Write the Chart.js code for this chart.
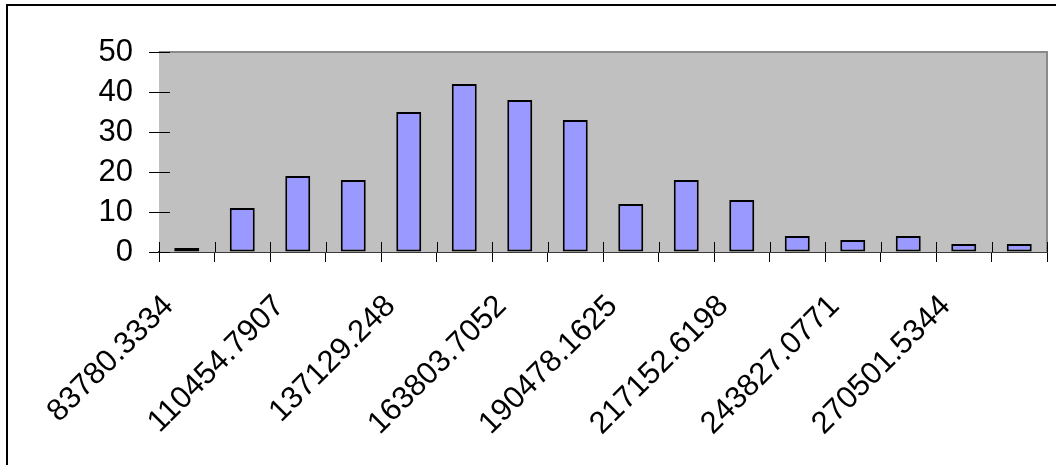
<!DOCTYPE html>
<html>
<head>
<meta charset="utf-8">
<script src="https://cdn.jsdelivr.net/npm/chart.js@4/dist/chart.umd.min.js"></script>
<style>
  html, body { margin: 0; padding: 0; background: #fff; }
  canvas { display: block; }
</style>
</head>
<body>
<canvas id="c" width="1056" height="465"></canvas>
<script>
// Histogram bins (lower bound of each bin) and counts
const binStarts = [
  '83780.3334', '97117.5621', '110454.7907', '123792.0194',
  '137129.248', '150466.4766', '163803.7052', '177140.9339',
  '190478.1625', '203815.3912', '217152.6198', '230489.8485',
  '243827.0771', '257164.3058', '270501.5344', '283838.7631'
];
const frequencies = [1, 11, 19, 18, 35, 42, 38, 33, 12, 18, 13, 4, 3, 4, 2, 2];
const yMin = 0;
const yMax = 50;
const yStep = 10;

const FONT = "'Liberation Sans', Arial, sans-serif";

// Plot background, frame, inward tick marks and the outer chart border
const framePlugin = {
  id: 'frame',
  beforeDatasetsDraw(chart) {
    const { ctx, chartArea: a, scales } = chart;
    ctx.save();
    ctx.fillStyle = '#C0C0C0';
    ctx.fillRect(a.left, a.top, a.right - a.left, a.bottom - a.top);

    // gray top and right edges of the plot area
    ctx.strokeStyle = '#8a8a8a';
    ctx.lineWidth = 2;
    ctx.beginPath();
    ctx.moveTo(a.left, a.top);
    ctx.lineTo(a.right, a.top);
    ctx.lineTo(a.right, a.bottom);
    ctx.stroke();

    // tick marks continue inside the plot area
    ctx.strokeStyle = '#000';
    ctx.lineWidth = 1;
    const x = scales.x;
    const n = x.ticks.length;
    ctx.beginPath();
    for (let i = 0; i <= n; i++) {
      const px = Math.round(x.getPixelForValue(i - 0.5)) + 0.5;
      ctx.moveTo(px, a.bottom - 10);
      ctx.lineTo(px, a.bottom);
    }
    const y = scales.y;
    y.ticks.forEach(t => {
      const py = Math.round(y.getPixelForValue(t.value)) + 0.5;
      ctx.moveTo(a.left, py);
      ctx.lineTo(a.left + 11, py);
    });
    ctx.stroke();
    ctx.restore();
  },
  afterDraw(chart) {
    const { ctx } = chart;
    ctx.save();
    ctx.strokeStyle = '#000';
    ctx.lineWidth = 2;
    ctx.beginPath();
    ctx.moveTo(7, 470);
    ctx.lineTo(7, 5);
    ctx.lineTo(1060, 5);
    ctx.stroke();
    ctx.restore();
  }
};

new Chart(document.getElementById('c'), {
  type: 'bar',
  data: {
    labels: binStarts,
    datasets: [{
      data: frequencies,
      backgroundColor: '#9999FF',
      borderColor: '#000',
      borderWidth: 2,
      borderSkipped: false,
      barPercentage: 0.9,
      categoryPercentage: 0.5
    }]
  },
  options: {
    responsive: false,
    animation: false,
    devicePixelRatio: 1,
    layout: { padding: { left: 0, top: 52, right: 9, bottom: 0 } },
    plugins: { legend: { display: false }, tooltip: { enabled: false } },
    scales: {
      x: {
        type: 'category',
        offset: true,
        afterFit(s) {
          s.height = 213;
          s.paddingLeft = 0;
          s.paddingRight = 0;
        },
        grid: { offset: true, drawOnChartArea: false, tickLength: 10, color: '#000', lineWidth: 1 },
        border: { display: true, color: '#3a3a3a', width: 2 },
        ticks: {
          autoSkip: false,
          minRotation: 45,
          maxRotation: 45,
          padding: 26,
          labelOffset: -18,
          color: '#000',
          font: { family: FONT, size: 31 },
          callback(value, index) {
            return index % 2 === 0 ? this.getLabelForValue(value) : '';
          }
        }
      },
      y: {
        min: yMin,
        max: yMax,
        afterFit(s) {
          s.width = 159;
          s.paddingTop = 0;
          s.paddingBottom = 0;
        },
        grid: { drawOnChartArea: false, tickLength: 10, color: '#000', lineWidth: 1 },
        border: { display: true, color: '#000', width: 1 },
        ticks: {
          stepSize: yStep,
          autoSkip: false,
          padding: 16,
          color: '#000',
          font: { family: FONT, size: 31 }
        }
      }
    }
  },
  plugins: [framePlugin]
});
</script>
</body>
</html>
